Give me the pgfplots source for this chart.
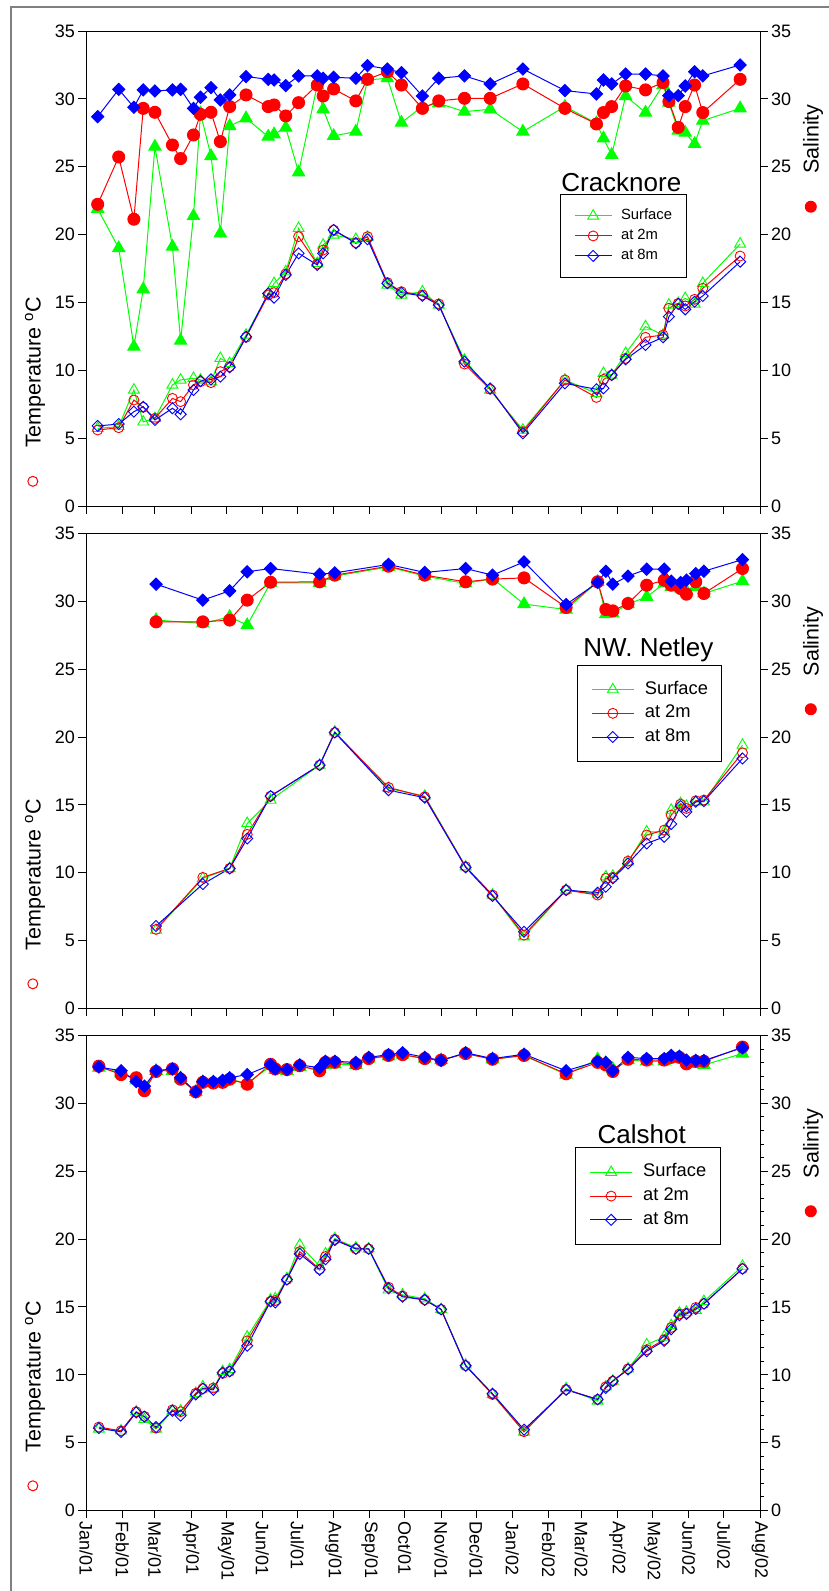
\documentclass[border=0pt]{standalone}
\usepackage{pgfplots}
\pgfplotsset{compat=1.18}
\usepackage{pgfplotstable}
\usepackage{fontspec}
\setmainfont{Liberation Sans}
\definecolor{cg}{RGB}{0,255,0}
\definecolor{cr}{RGB}{255,0,0}
\definecolor{cb}{RGB}{0,0,255}
\definecolor{framegray}{RGB}{128,128,128}

\pgfplotstableread{
d Ts T2 T8 Ss S2 S8
10 5.72 5.60 5.90 21.90 22.23 28.69
28 5.85 5.77 6.04 19.00 25.72 30.70
41 8.55 7.81 6.95 11.74 21.13 29.38
49 6.20 7.27 7.32 15.97 29.30 30.66
59 6.46 6.46 6.34 26.48 29.01 30.58
74 8.92 7.93 7.20 19.11 26.60 30.66
81 9.29 7.69 6.76 12.18 25.60 30.70
92 9.41 8.92 8.55 21.37 27.34 29.30
98 9.29 9.16 9.21 28.94 28.86 30.12
107 9.16 9.09 9.33 25.79 29.01 30.83
115 10.88 9.90 9.53 20.09 26.85 29.92
123 10.51 10.27 10.22 28.00 29.43 30.29
137 12.60 12.43 12.48 28.57 30.29 31.64
156 15.62 15.55 15.67 27.22 29.43 31.44
161 16.40 15.72 15.35 27.39 29.55 31.39
171 17.27 17.10 17.02 27.88 28.74 30.98
182 20.46 19.85 18.62 24.59 29.72 31.69
198 17.88 17.83 17.76 31.02 31.02 31.69
203 19.23 18.86 18.62 29.23 30.21 31.52
212 19.97 20.34 20.34 27.27 30.73 31.59
231 19.65 19.40 19.36 27.59 29.85 31.52
241 19.80 19.85 19.65 31.39 31.44 32.45
258 16.29 16.46 16.41 31.52 32.00 32.20
270 15.55 15.79 15.72 28.25 31.02 31.93
288 15.79 15.55 15.48 29.43 29.30 30.21
302 14.81 14.89 14.81 29.67 29.85 31.52
324 10.76 10.46 10.64 29.06 30.04 31.69
346 8.55 8.60 8.67 29.23 30.04 31.10
374 5.60 5.48 5.36 27.59 31.10 32.20
410 9.29 9.29 9.04 29.43 29.30 30.61
437 8.30 8.00 8.60 28.20 28.15 30.36
443 9.78 9.33 8.67 27.09 28.99 31.39
450 9.65 9.65 9.65 25.87 29.43 31.10
462 11.25 10.88 10.81 30.21 30.95 31.83
479 13.22 12.43 11.86 28.99 30.66 31.83
494 12.60 12.60 12.43 31.02 31.20 31.69
499 14.81 14.57 13.95 29.72 29.80 30.24
507 14.93 14.93 14.89 27.66 27.90 30.24
513 15.30 14.74 14.49 27.51 29.43 30.95
521 14.89 15.23 15.06 26.68 31.02 32.00
528 16.41 16.04 15.48 28.40 28.99 31.69
560 19.31 18.42 18.00 29.30 31.44 32.50
}\tabA

\pgfplotstableread{
d Ts T2 T8 Ss S2 S8
60 5.78 5.83 6.08 28.62 28.49 31.27
100 9.59 9.66 9.17 28.37 28.49 30.09
123 10.32 10.32 10.32 28.86 28.62 30.78
138 13.64 12.83 12.53 28.25 30.09 32.18
158 15.36 15.65 15.65 31.37 31.41 32.42
200 17.94 17.94 17.94 31.37 31.44 32.00
213 20.39 20.34 20.34 31.86 31.93 32.10
259 16.22 16.29 16.09 32.54 32.59 32.72
290 15.65 15.60 15.53 31.86 31.93 32.13
325 10.45 10.45 10.40 31.32 31.44 32.42
348 8.36 8.36 8.29 31.69 31.64 31.93
375 5.29 5.41 5.66 29.80 31.73 32.91
411 8.73 8.73 8.73 29.40 29.55 29.77
438 8.43 8.36 8.53 31.44 31.44 31.39
445 9.71 9.59 8.97 29.06 29.40 32.22
451 9.76 9.66 9.59 29.11 29.30 31.27
464 10.81 10.86 10.69 29.80 29.84 31.86
480 13.02 12.78 12.16 30.33 31.19 32.37
495 13.02 13.15 12.65 31.32 31.56 32.37
501 14.62 14.25 13.59 31.07 31.19 31.49
509 15.11 15.06 14.91 30.95 30.95 31.39
514 14.91 14.74 14.49 30.78 30.53 31.56
522 15.23 15.31 15.23 31.07 31.44 32.05
529 15.23 15.36 15.28 30.58 30.58 32.22
562 19.41 18.84 18.42 31.49 32.42 33.08
}\tabB

\pgfplotstableread{
d Ts T2 T8 Ss S2 S8
11 6.01 6.15 6.07 32.63 32.74 32.68
30 5.87 5.87 5.79 32.26 32.12 32.40
43 7.28 7.28 7.23 31.70 31.89 31.61
50 6.72 6.94 6.92 31.13 30.93 31.27
60 6.01 6.07 6.15 32.40 32.35 32.40
74 7.34 7.42 7.34 32.40 32.54 32.54
81 7.34 7.28 7.00 31.84 31.78 31.89
94 8.64 8.64 8.55 30.85 30.85 30.85
100 9.12 8.98 8.98 31.55 31.55 31.61
109 8.98 9.03 8.89 31.50 31.50 31.61
117 10.25 10.10 10.16 31.55 31.55 31.70
123 10.39 10.25 10.25 31.78 31.78 31.89
138 12.79 12.50 12.14 31.47 31.41 32.12
158 15.52 15.41 15.41 32.74 32.88 32.83
162 15.61 15.47 15.33 32.46 32.54 32.54
172 17.10 17.02 17.02 32.40 32.49 32.49
183 19.56 19.08 18.91 32.68 32.77 32.83
200 18.01 17.78 17.73 32.54 32.40 32.63
205 18.91 18.71 18.52 32.83 33.02 33.10
213 20.04 19.98 19.93 32.88 33.02 33.10
231 19.36 19.28 19.28 32.83 32.91 33.02
242 19.28 19.28 19.28 33.30 33.30 33.39
259 16.26 16.45 16.37 33.47 33.53 33.59
271 15.89 15.81 15.75 33.59 33.59 33.73
290 15.61 15.52 15.52 33.30 33.30 33.39
304 14.82 14.82 14.82 33.19 33.19 33.16
325 10.73 10.67 10.67 33.67 33.67 33.73
348 8.55 8.55 8.61 33.25 33.25 33.30
375 5.79 5.81 5.96 33.53 33.53 33.62
411 8.98 8.92 8.89 32.12 32.18 32.40
438 8.07 8.19 8.19 33.25 33.02 33.10
445 9.12 9.12 9.03 32.96 32.83 33.02
451 9.54 9.54 9.54 32.54 32.35 32.40
464 10.44 10.44 10.39 33.19 33.25 33.39
480 12.22 11.85 11.74 33.10 33.19 33.30
495 12.79 12.59 12.50 33.10 33.19 33.30
501 13.63 13.49 13.35 33.30 33.39 33.53
508 14.56 14.48 14.39 33.39 33.39 33.47
514 14.62 14.54 14.48 33.02 32.91 33.19
522 14.76 14.96 14.85 32.91 33.10 33.16
529 15.41 15.24 15.24 32.83 33.10 33.16
562 18.01 17.81 17.81 33.67 34.15 34.10
}\tabC

\pgfplotsset{
  panel/.style={
    scale only axis, width=674pt, height=475pt,
    xmin=0, xmax=577, ymin=0, ymax=35,
    xtick={0,31,59,90,120,151,181,212,243,273,304,334,365,396,424,455,485,516,546,577},
    ytick={0,5,...,35},
    tick align=outside, tick pos=left,
    major tick length=7.5pt,
    axis line style={line width=1pt},
    every tick/.append style={black, line width=1pt},
    tick label style={font=\fontsize{18}{20}\selectfont},
    /pgf/number format/assume math mode=true,
    ylabel={\tikz[baseline=-0.36em]\draw[cr,line width=1pt] (0,0) circle (5pt);\hspace{28pt}Temperature \textsuperscript{o}C},
    every axis y label/.style={at={(axis description cs:-0.0757,0.04)}, rotate=90, anchor=west, inner sep=0pt, font=\fontsize{21.5}{24}\selectfont},
    legend cell align=left,
  },
  rightax/.style={
    scale only axis, width=674pt, height=475pt,
    xmin=0, xmax=577, ymin=0, ymax=35,
    axis x line=none, axis y line*=right,
    ytick={0,5,...,35},
    tick align=outside, major tick length=7.5pt,
    axis line style={line width=1pt},
    every tick/.append style={black, line width=1pt},
    tick label style={font=\fontsize{18}{20}\selectfont},
    /pgf/number format/assume math mode=true,
    ylabel={\tikz[baseline=-0.36em]\fill[cr] (0,0) circle (6pt);\hspace{27pt}Salinity},
    every axis y label/.style={at={(axis description cs:1.0786,0.617)}, rotate=90, anchor=west, inner sep=0pt, font=\fontsize{21.5}{24}\selectfont},
  },
  legsmall/.style={
    legend style={draw=black, line width=1pt, font=\fontsize{14.8}{17}\selectfont,
      inner xsep=14pt, inner ysep=14.5pt, row sep=6pt, column sep=9pt,
      nodes={inner sep=0pt, text height=11pt, text depth=3pt}},
    legend image code/.code={\draw[mark repeat=2,mark phase=2,##1] plot coordinates {(0pt,0pt) (18.35pt,0pt) (36.7pt,0pt)};},
  },
  legbig/.style={
    legend style={draw=black, line width=1pt, font=\fontsize{18.3}{21}\selectfont,
      inner xsep=14pt, inner ysep=16pt, row sep=6.7pt, column sep=10.4pt,
      nodes={inner sep=0pt, text height=13pt, text depth=4pt}},
    legend image code/.code={\draw[mark repeat=2,mark phase=2,##1] plot coordinates {(0pt,0pt) (21.15pt,0pt) (42.3pt,0pt)};},
  },
  ts/.style={cg, line width=1pt, mark=triangle, mark size=6.3pt, mark options={solid, line width=0.9pt}},
  t2/.style={cr, line width=1pt, mark=o, mark size=5pt, mark options={solid, line width=0.9pt}},
  t8/.style={cb, line width=1pt, mark=square, mark size=3.9pt, mark options={solid, line width=0.9pt, rotate=45}},
  ss/.style={cg, line width=1pt, mark=triangle*, mark size=7pt, mark options={solid}},
  s2/.style={cr, line width=1pt, mark=*, mark size=6pt, mark options={solid}},
  s8/.style={cb, line width=1pt, mark=square*, mark size=4.3pt, mark options={solid, rotate=45}},
}

\newcommand\panelplots[1]{%
  \addplot[ts] table[x=d,y=Ts]{#1}; \addlegendentry{Surface}
  \addplot[t2] table[x=d,y=T2]{#1}; \addlegendentry{at 2m}
  \addplot[t8] table[x=d,y=T8]{#1}; \addlegendentry{at 8m}
  \addplot[ss, forget plot] table[x=d,y=Ss]{#1};
  \addplot[s2, forget plot] table[x=d,y=S2]{#1};
  \addplot[s8, forget plot] table[x=d,y=S8]{#1};
}

\begin{document}
\begin{tikzpicture}
\draw[framegray, line width=2pt] (11pt,-1600pt) -- (11pt,-7pt) -- (840pt,-7pt);

% Panel 1: Cracknore
\begin{axis}[panel, legsmall, at={(86pt,-506pt)}, anchor=south west, xticklabels={},
  legend style={at={(0.703,0.657)}, anchor=north west}]
\panelplots{\tabA}
\node[anchor=base, font=\fontsize{26}{30}\selectfont] at (rel axis cs:0.7942,0.6617) {Cracknore};
\end{axis}
\begin{axis}[rightax, at={(86pt,-506pt)}, anchor=south west]
\end{axis}

% Panel 2: NW. Netley
\begin{axis}[panel, legbig, at={(86pt,-1008.5pt)}, anchor=south west, xticklabels={},
  legend style={at={(0.728,0.724)}, anchor=north west}]
\panelplots{\tabB}
\node[anchor=base, font=\fontsize{26}{30}\selectfont] at (rel axis cs:0.8345,0.742) {NW. Netley};
\end{axis}
\begin{axis}[rightax, at={(86pt,-1008.5pt)}, anchor=south west]
\end{axis}

% Panel 3: Calshot
\begin{axis}[panel, legbig, at={(86pt,-1510.5pt)}, anchor=south west,
  xticklabels={Jan/01,Feb/01,Mar/01,Apr/01,May/01,Jun/01,Jul/01,Aug/01,Sep/01,Oct/01,Nov/01,Dec/01,Jan/02,Feb/02,Mar/02,Apr/02,May/02,Jun/02,Jul/02,Aug/02},
  xticklabel style={rotate=-90, anchor=west, font=\fontsize{18}{20}\selectfont},
  legend style={at={(0.7255,0.7645)}, anchor=north west}]
\panelplots{\tabC}
\node[anchor=base, font=\fontsize{26}{30}\selectfont] at (rel axis cs:0.8245,0.7737) {Calshot};
\end{axis}
\begin{axis}[rightax, at={(86pt,-1510.5pt)}, anchor=south west, minor y tick num=4, minor tick length=4pt]
\end{axis}

\pgfresetboundingbox
\path[use as bounding box] (0pt,0pt) rectangle (829pt,-1591pt);
\end{tikzpicture}
\end{document}
